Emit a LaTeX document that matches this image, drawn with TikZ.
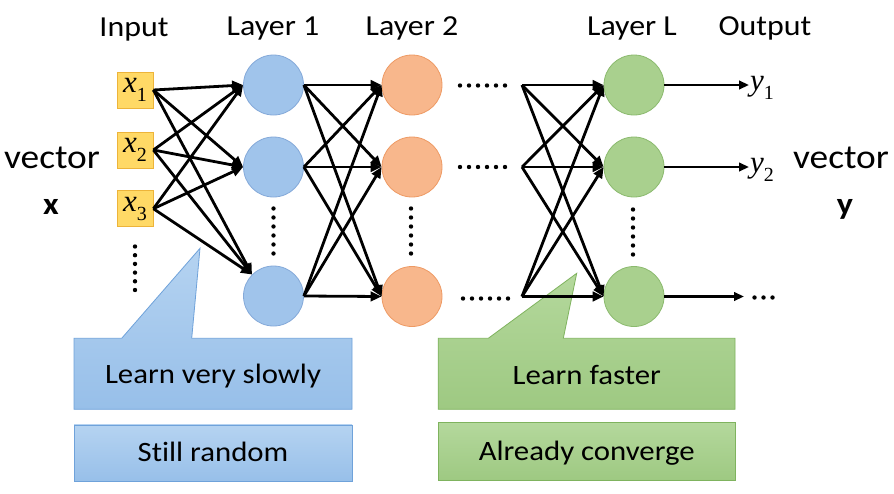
\documentclass[tikz,border=0pt]{standalone}
\usepackage{fontspec}
\setmainfont{Carlito}[FakeStretch=1.1,Ligatures=NoCommon]
\newfontfamily\tmsfont{Liberation Serif}
\usetikzlibrary{arrows.meta}
\definecolor{inyel}{HTML}{FFD966}
\definecolor{inbrd}{HTML}{EDB43A}
\definecolor{bluef}{HTML}{A0C4EB}
\definecolor{blued}{HTML}{84A9D9}
\definecolor{orf}{HTML}{F8B78C}
\definecolor{ord}{HTML}{EE9A64}
\definecolor{grf}{HTML}{A9D08E}
\definecolor{grd}{HTML}{8BBA6E}
\definecolor{cbtop}{HTML}{B5D3F1}
\definecolor{cbbot}{HTML}{97BFE9}
\definecolor{cbd}{HTML}{6FA2DA}
\definecolor{cgtop}{HTML}{B4D89C}
\definecolor{cgbot}{HTML}{9EC982}
\definecolor{cgd}{HTML}{7FB35E}
\newcommand{\vlab}[2]{{\tmsfont\fontsize{31}{31}\selectfont\itshape #1}\raisebox{-9pt}{\tmsfont\fontsize{20}{20}\selectfont #2}}
\begin{document}
\begin{tikzpicture}[x=1pt,y=-1pt,
  neuron/.style={circle, minimum size=60pt, inner sep=0pt, line width=0.8pt},
  l1n/.style={neuron, fill=bluef, draw=blued},
  l2n/.style={neuron, fill=orf, draw=ord},
  lLn/.style={neuron, fill=grf, draw=grd},
  inbox/.style={rectangle, minimum size=36pt, inner sep=0pt, fill=inyel, draw=inbrd, line width=0.8pt},
  conn/.style={line width=2.8pt, -{Triangle[length=11pt,width=9.5pt]}},
  outarr/.style={line width=2.3pt, -{Triangle[length=10pt,width=8.5pt]}},
  hdr/.style={font=\fontsize{29}{29}\selectfont, anchor=base, inner sep=0pt},
  side/.style={font=\fontsize{34}{34}\selectfont, anchor=base, inner sep=0pt},
  boldlab/.style={font=\fontsize{31}{31}\selectfont\bfseries, anchor=base, inner sep=0pt},
  ctext/.style={font=\fontsize{28}{28}\selectfont, anchor=base, inner sep=0pt},
  bluebox/.style={rectangle, draw=cbd, top color=cbtop, bottom color=cbbot, line width=0.8pt},
  greenbox/.style={rectangle, draw=cgd, top color=cgtop, bottom color=cgbot, line width=0.8pt},
  ylab/.style={anchor=west, inner sep=1pt}
]
\useasboundingbox[fill=white] (0,0) rectangle (894,493);

% headers
\node[hdr] (hInput) at (134,36) {Input};
\node[hdr] (hL1) at (273,35) {Layer 1};
\node[hdr] (hL2) at (412,35) {Layer 2};
\node[hdr] (hLL) at (632,35) {Layer L};
\node[hdr] (hOut) at (765,35) {Output};

% side labels
\node[side] (vx) at (52,168) {vector};
\node[boldlab] (bx) at (51,214) {x};
\node[side] (vy) at (841,168) {vector};
\node[boldlab] (by) at (845,214) {y};

% callouts (drawn first)
\path[bluebox] (74,338.3) -- (121.7,338.3) -- (200,248.3) -- (191.7,338.3) -- (352,338.3) -- (352,409.3) -- (74,409.3) -- cycle;
\node[ctext] (t1) at (213,383) {Learn very slowly};
\node[bluebox, minimum width=278pt, minimum height=56.7pt, inner sep=0pt] (b2) at (213,453.3) {};
\node[ctext] (t2) at (213,461.5) {Still random};
\path[greenbox] (438.3,338.3) -- (488.3,338.3) -- (576.7,273.3) -- (563.3,338.3) -- (735,338.3) -- (735,409.3) -- (438.3,409.3) -- cycle;
\node[ctext] (t3) at (586.7,384) {Learn faster};
\node[greenbox, minimum width=296.7pt, minimum height=57.3pt, inner sep=0pt] (g2) at (586.7,451.3) {};
\node[ctext] (t4) at (586.7,460) {Already converge};

% inputs
\node[inbox] (x1) at (135,90) {\vlab{x}{1}};
\node[inbox] (x2) at (135,150) {\vlab{x}{2}};
\node[inbox] (x3) at (135,208.7) {\vlab{x}{3}};

% neurons
\node[l1n] (a1) at (273.5,85) {};
\node[l1n] (a2) at (273.5,167) {};
\node[l1n] (a3) at (273.5,296) {};
\node[l2n] (b1) at (412,85) {};
\node[l2n] (b2n) at (412,167) {};
\node[l2n] (b3) at (412,296.5) {};
\node[lLn] (c1) at (634,85) {};
\node[lLn] (c2) at (634,167) {};
\node[lLn] (c3) at (634,296.5) {};

% fan-in points before layer L
\coordinate (p1) at (522,85);
\coordinate (p2) at (522,167);
\coordinate (p3) at (522,296.5);

% connections input -> layer 1
\foreach \i in {1,2,3}{
  \draw[conn] (x\i.east) -- (a1.west);
  \draw[conn] (x\i.east) -- (a2.west);
  \draw[conn] (x\i.east) -- (a3.north west);
}
% layer 1 -> layer 2
\foreach \i in {1,2,3}{
  \draw[conn] (a\i.east) -- (b1.west);
  \draw[conn] (a\i.east) -- (b2n.west);
  \draw[conn] (a\i.east) -- (b3.west);
}
% ... -> layer L
\foreach \i in {1,2,3}{
  \draw[conn] (p\i) -- (c1.west);
  \draw[conn] (p\i) -- (c2.west);
  \draw[conn] (p\i) -- (c3.west);
}

% outputs
\node[ylab] (y1) at (749,88) {\vlab{y}{1}};
\node[ylab] (y2) at (749,170) {\vlab{y}{2}};
\coordinate (yo) at (744,296.5);
\draw[outarr] (c1.east) -- (c1.east -| y1.west);
\draw[outarr] (c2.east) -- (c2.east -| y2.west);
\draw[outarr] (c3.east) -- (yo);

% dots
\foreach \k in {0,...,5}{
  \fill ({460+9*\k},85.5) circle (2.2pt);
  \fill ({460+9*\k},167) circle (2.2pt);
  \fill ({463+9*\k},298.5) circle (2.2pt);
  \fill (135,{246.5+8.7*\k}) circle (2.2pt);
  \fill (273.5,{208.5+9*\k}) circle (2.2pt);
  \fill (411,{208.5+9*\k}) circle (2.2pt);
  \fill (633,{209.5+9*\k}) circle (2.2pt);
}
\foreach \k in {0,1,2}{
  \fill ({754.5+9*\k},297.5) circle (2.2pt);
}
\end{tikzpicture}
\end{document}
